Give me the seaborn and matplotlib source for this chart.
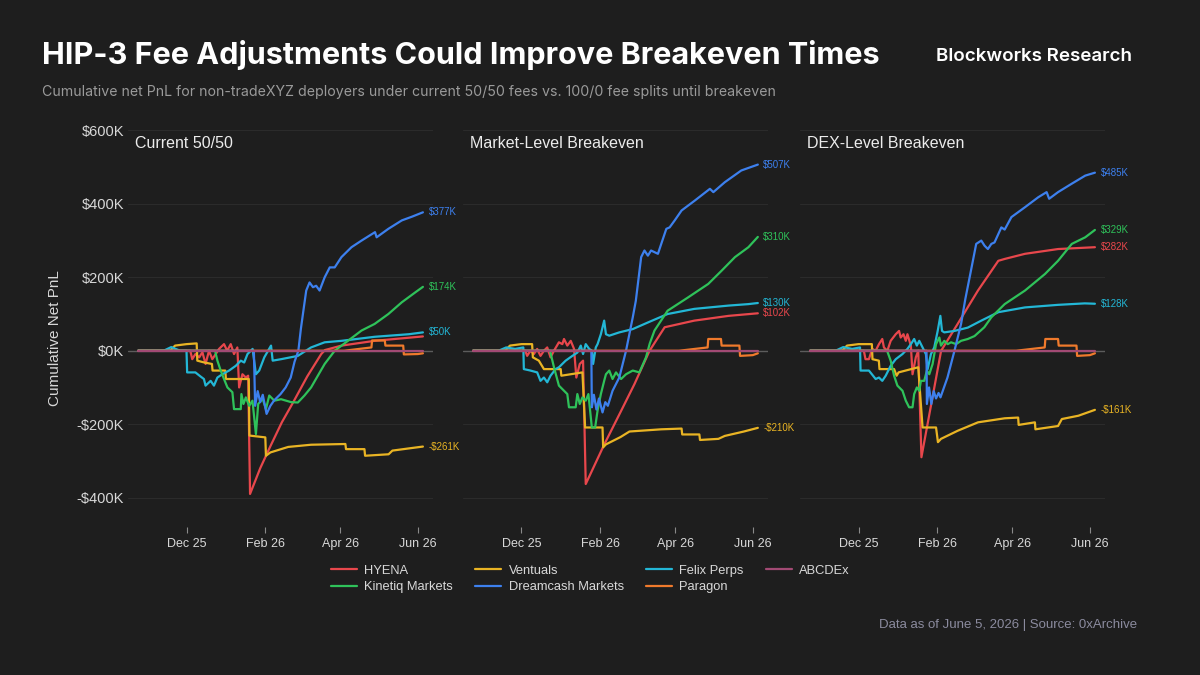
import pandas as pd
import seaborn as sns
import matplotlib.pyplot as plt
import matplotlib.dates as mdates
from matplotlib.ticker import FuncFormatter

# day offsets are counted from Dec 1, 2025; values in $K
START = pd.Timestamp("2025-12-01")

SERIES = ["HYENA", "Ventuals", "Felix Perps", "Kinetiq Markets", "Dreamcash Markets", "Paragon", "ABCDEx"]
COLORS = ["#e8474c", "#e9b424", "#23b7d6", "#2fc25a", "#3d80ee", "#f07a2c", "#a24a74"]
LEGEND_ORDER = ["HYENA", "Kinetiq Markets", "Ventuals", "Dreamcash Markets", "Felix Perps", "Paragon", "ABCDEx"]
PANELS = ["Current 50/50", "Market-Level Breakeven", "DEX-Level Breakeven"]

# ---- Current 50/50
CUR_HYENA = [(-38, 0), (3, 0), (4.5, -23), (7, -9), (10, -18), (12.5, -4), (15, -36), (17.7, 0), (20.3, -23),
             (23, -9), (25.6, 5), (29.5, 18), (32, 0), (34.8, 18), (37.4, -9), (40, 9), (41.4, -100), (44, -64),
             (46.7, -73), (48.5, -68), (50, -390), (58, -320), (66, -260), (75, -195), (84, -140), (95, -70),
             (106, -9), (109, 2), (122, 14), (148, 27), (186, 39)]
CUR_VENTUALS = [(-38, 0), (-13, 0), (-9, 14), (0, 18), (8, 20), (8.5, -27), (14, -32), (20, -36), (20.5, -54),
                (30.5, -54), (31, -77), (49, -77), (49.5, -231), (62, -236), (62.5, -286), (66, -277), (80, -262),
                (98, -256), (125, -254), (125.5, -268), (140, -268), (140.5, -286), (159, -282), (162, -272),
                (175, -266), (186, -261)]
CUR_FELIX = [(-38, 0), (-18, 0), (-12, 10), (-5, 0), (0, 0), (0.5, -59), (7, -59), (11, -70), (13.7, -77), (15, -95),
             (19, -82), (21.6, -95), (24.3, -73), (28.2, -64), (33.5, -54), (38.8, -41), (42.7, -27), (45.4, -32),
             (48, -9), (52, 5), (54.6, -64), (57.2, -54), (61.2, -18), (66.5, 14), (67.8, -27), (74.4, -23),
             (87.6, -14), (98, 9), (108.7, 23), (122, 27), (148, 38), (175, 45), (186, 50)]
CUR_KINETIQ = [(-38, 0), (22.5, 0), (24.3, -27), (26.9, -54), (29.5, -77), (32.2, -100), (36.1, -113), (37.4, -159),
               (42.7, -159), (43.2, -118), (44.8, -145), (46.7, -127), (49.3, -150), (51.9, -136), (54.6, -227),
               (56.4, -145), (59.9, -131), (62.5, -159), (65.1, -122), (69.1, -136), (74.4, -132), (82.3, -140),
               (87.6, -141), (92.8, -122), (98, -100), (103, -70), (108.7, -36), (116.6, 0), (127, 27), (137.7, 55),
               (148, 73), (158.8, 100), (169.4, 132), (180, 159), (186, 174)]
CUR_DREAMCASH = [(-38, 0), (53, 0), (54, -150), (56, -110), (58, -140), (60, -120), (63, -172), (66, -150),
                 (69, -135), (74, -118), (78, -100), (82, -73), (85, -30), (88, 0), (90, 60), (92, 110), (94.2, 164),
                 (96.8, 186), (99.5, 173), (102, 177), (104.7, 164), (108.7, 200), (112.7, 227), (116.6, 227),
                 (121.9, 255), (129.8, 282), (137.7, 300), (148.3, 323), (149.6, 309), (158.8, 332), (169.4, 355),
                 (177.3, 365), (186, 377)]
CUR_PARAGON = [(-38, 0), (124, 0), (145.5, 9), (146, 28), (156, 28), (156.5, 14), (170.5, 14), (171, -10),
               (182, -9), (186, -7)]
CUR_ABCDEX = [(-38, 0), (186, 0)]

# ---- Market-level breakeven
MKT_HYENA = [(-38, 0), (3, 0), (4.5, -14), (7.1, 0), (9.8, -9), (12.4, 5), (15, -14), (17.7, 0), (20.3, 9),
             (22.9, -18), (25.6, 0), (29.5, 23), (32.2, 18), (33.5, 32), (36.1, 14), (38.8, 27), (41.4, 5),
             (43.2, -73), (45.9, -36), (48.5, -27), (50.6, -363), (65.2, -255), (78.4, -164), (88.9, -91),
             (100.8, 0), (112.7, 64), (136, 82), (163, 95), (186, 102)]
MKT_VENTUALS = [(-38, 0), (-13, 0), (-9, 14), (0, 18), (8.4, 18), (9, -18), (13.7, -27), (17.7, -50), (30.9, -50),
                (31.4, -68), (48, -59), (50.1, -209), (63.8, -209), (64.3, -263), (66.5, -255), (78, -235),
                (85, -220), (110, -214), (126, -212), (126.5, -228), (140, -228), (140.5, -243), (155, -240),
                (160, -232), (175, -220), (186, -210)]
MKT_FELIX = [(-38, 0), (-18, 0), (-12, 9), (-5, 5), (1.5, 9), (1.9, -50), (7.1, -54), (12.4, -59), (15, -82),
             (17.7, -73), (20.3, -86), (22.9, -68), (26.9, -50), (29.5, -45), (34.8, -27), (40.1, -14), (44, -5),
             (46.7, 14), (48.5, -9), (50.6, 18), (53.3, 5), (55.5, 0), (56.4, -36), (58.5, 9), (59.9, 18),
             (62.5, 45), (65.1, 82), (66.5, 45), (69.1, 41), (77, 50), (87.6, 59), (99.5, 77), (115, 100),
             (136, 114), (163, 123), (178.6, 127), (186, 130)]
MKT_KINETIQ = [(-38, 0), (22.5, 0), (25.6, -45), (29.5, -95), (33.5, -109), (36.1, -118), (37.4, -154), (42.7, -154),
               (44, -118), (45.9, -145), (48, -127), (50.6, -136), (52.7, -118), (55.4, -209), (58, -209),
               (59.9, -163), (62.5, -118), (65.1, -82), (66.5, -64), (69.1, -54), (71.7, -77), (74.4, -59),
               (78.4, -77), (82.3, -64), (87.6, -54), (92.8, -59), (98, -18), (101, 20), (104.7, 55), (115, 109),
               (131, 145), (147, 182), (157.5, 218), (168, 255), (178.6, 282), (186, 310)]
MKT_DREAMCASH = [(-38, 0), (55, 0), (55.4, -154), (57, -120), (59, -160), (61, -130), (63.8, -168), (66, -140),
                 (68, -150), (71.7, -109), (77, -73), (82.3, 0), (87.6, 91), (90, 136), (94.2, 255), (96.8, 273),
                 (99.5, 259), (102, 273), (107.4, 264), (110, 291), (114, 332), (116.6, 336), (120.6, 355),
                 (126, 382), (136.4, 409), (148.3, 441), (151, 432), (160, 459), (173, 491), (186, 507)]
MKT_PARAGON = [(-38, 0), (124, 0), (146.5, 9), (147, 32), (157, 32), (157.5, 14), (171.5, 14), (172, -14),
               (182, -12), (186, -7)]
MKT_ABCDEX = [(-38, 0), (186, 0)]

# ---- DEX-level breakeven
DEX_HYENA = [(-38, 0), (4.2, 0), (5.5, -23), (8.2, -23), (10.8, 5), (13.5, 0), (16.1, 18), (18.7, 32), (20, 9),
             (22.7, 0), (25.3, 27), (29.3, 45), (31.9, 54), (33.2, 36), (35.4, 45), (37.2, 27), (38.5, 45),
             (41.2, 14), (42.5, -64), (45.1, -18), (47, 0), (49.5, -290), (65, 0), (78, 73), (94, 164), (110, 245),
             (115, 250), (131, 264), (157, 277), (186, 282)]
DEX_VENTUALS = [(-38, 0), (-13, 0), (-9, 14), (0, 18), (10.5, 18), (11, -23), (16, -27), (16.5, -50), (28, -50),
                (30, -68), (31.5, -59), (47, -45), (50.4, -209), (61, -209), (62.5, -249), (64.9, -240), (78, -218),
                (94, -195), (115, -184), (125.6, -182), (126, -202), (138.8, -195), (139.2, -214), (157, -205),
                (160, -186), (173, -177), (186, -161)]
DEX_FELIX = [(-38, 0), (-18, 0), (-12, 10), (-5, 5), (1.2, 9), (1.6, -54), (8.2, -54), (13.5, -77), (16.1, -73),
             (18.7, -82), (21.4, -68), (25.3, -41), (29.3, -23), (34.6, -9), (38.5, 5), (41.2, 18), (43.8, 32),
             (45.9, 14), (47.8, 27), (50.4, 9), (53, -9), (54.4, -50), (57, -9), (59.6, 9), (62.3, 54), (64.4, 95),
             (65.7, 54), (67.5, 50), (75.5, 54), (86, 63), (96.6, 82), (110, 105), (131, 118), (157, 125),
             (178, 129), (186, 128)]
DEX_KINETIQ = [(-38, 0), (22.5, 0), (25.3, -27), (28, -68), (30.6, -95), (34.6, -109), (37.2, -136), (39.8, -154),
               (42.5, -154), (43.8, -118), (45.9, -100), (47.8, -109), (49.1, -82), (51.7, -82), (53.8, -54),
               (55.7, -64), (58.3, -36), (61, 18), (63.6, 36), (64.9, 14), (67.5, 27), (70.2, 18), (72.8, 23),
               (76.8, 18), (80.7, 27), (86, 32), (91.3, 40), (99, 64), (104.5, 91), (115, 127), (131, 164),
               (146.7, 209), (157, 245), (167.8, 291), (178.4, 309), (186, 329)]
DEX_DREAMCASH = [(-38, 0), (53.5, 0), (53.8, -145), (55.5, -100), (57.3, -145), (59.2, -110), (61, -130),
                 (63, -115), (64.5, -127), (70, -73), (75.5, 0), (80.7, 73), (84, 140), (88, 210), (92.6, 291),
                 (96.6, 300), (99.2, 286), (101.8, 277), (104.5, 291), (107, 295), (112.4, 336), (115, 330),
                 (120.3, 364), (131, 391), (141.4, 418), (148, 432), (150, 414), (157, 432), (167.8, 455),
                 (178.4, 477), (186, 485)]
DEX_PARAGON = [(-38, 0), (124, 0), (146.5, 9), (147, 32), (157, 32), (157.5, 14), (171.5, 14), (172, -14),
               (182, -12), (186, -7)]
DEX_ABCDEX = [(-38, 0), (186, 0)]

PANEL_DATA = [
    [CUR_HYENA, CUR_VENTUALS, CUR_FELIX, CUR_KINETIQ, CUR_DREAMCASH, CUR_PARAGON, CUR_ABCDEX],
    [MKT_HYENA, MKT_VENTUALS, MKT_FELIX, MKT_KINETIQ, MKT_DREAMCASH, MKT_PARAGON, MKT_ABCDEX],
    [DEX_HYENA, DEX_VENTUALS, DEX_FELIX, DEX_KINETIQ, DEX_DREAMCASH, DEX_PARAGON, DEX_ABCDEX],
]

rows = []
for panel, series_pts in zip(PANELS, PANEL_DATA):
    for name, pts in zip(SERIES, series_pts):
        for d, v in pts:
            rows.append((panel, name, START + pd.Timedelta(days=d), v))
df = pd.DataFrame(rows, columns=["panel", "series", "date", "pnl"])

BG = "#1e1e1e"
sns.set_theme(style="dark", rc={"axes.facecolor": BG, "figure.facecolor": BG})
plt.rcParams["font.family"] = ["Liberation Sans", "DejaVu Sans"]

palette = dict(zip(SERIES, COLORS))

fig = plt.figure(figsize=(12, 6.75), dpi=100)
lefts = [0.1067, 0.3858, 0.6667]

def money(v, pos=None):
    return ("-$" if v < 0 else "$") + f"{abs(v):.0f}K"

handles = labels = None
for i, panel in enumerate(PANELS):
    ax = fig.add_axes([lefts[i], 0.2193, 0.2542, 0.5956])
    ax.set_facecolor(BG)
    sub = df[df.panel == panel]
    ax.axhline(0, color="#5c5c5c", lw=1.0, zorder=1)
    sns.lineplot(data=sub, x="date", y="pnl", hue="series", hue_order=SERIES, palette=palette,
                 estimator=None, linewidth=1.6, ax=ax, legend=(i == 0), zorder=3)
    if i == 0:
        handles, labels = ax.get_legend_handles_labels()
        ax.get_legend().remove()

    ax.set_xlim(START + pd.Timedelta(days=-46), START + pd.Timedelta(days=194))
    ax.set_ylim(-480, 615)
    ax.set_yticks([-400, -200, 0, 200, 400, 600])
    ax.yaxis.set_major_formatter(FuncFormatter(money))
    ax.grid(axis="y", color="#2b2b2b", lw=0.8)
    ax.grid(axis="x", visible=False)
    for s in ax.spines.values():
        s.set_visible(False)
    ax.set_xticks(pd.to_datetime(["2025-12-01", "2026-02-01", "2026-04-01", "2026-06-01"]))
    ax.xaxis.set_major_formatter(mdates.DateFormatter("%b %y"))
    ax.tick_params(axis="x", colors="#8a8a8a", labelcolor="#d8d8d8", labelsize=9, length=4, width=0.8,
                   direction="out", pad=4, bottom=True)
    ax.tick_params(axis="y", left=False, length=0, labelcolor="#d8d8d8", labelsize=10.5, pad=3)
    if i > 0:
        ax.tick_params(axis="y", labelleft=False)
    ax.set_xlabel("")
    ax.set_ylabel("")
    ax.text(0.023, 0.955, panel, transform=ax.transAxes, color="#ececec", fontsize=11.5, va="center")

    # value labels at the end of each line
    for name in SERIES:
        last = sub[sub.series == name].iloc[-1]
        if abs(last.pnl) >= 50:
            ax.annotate(money(last.pnl), (last.date, last.pnl), xytext=(4, 0), textcoords="offset points",
                        color=palette[name], fontsize=7, va="center", ha="left", annotation_clip=False)

order = [labels.index(n) for n in LEGEND_ORDER]
leg = fig.legend([handles[k] for k in order], LEGEND_ORDER, ncol=4, loc="center", bbox_to_anchor=(0.492, 0.142),
                 frameon=False, fontsize=9.3, handlelength=2.0, handletextpad=0.6, columnspacing=1.7,
                 labelspacing=0.35)
for t in leg.get_texts():
    t.set_color("#d8d8d8")

fig.text(0.035, 0.918, "HIP-3 Fee Adjustments Could Improve Breakeven Times", family=["Inter", "DejaVu Sans"],
         fontsize=22, fontweight="bold", color="white", va="center")
fig.text(0.943, 0.916, "Blockworks Research", family=["Inter", "DejaVu Sans"], fontsize=13.5,
         fontweight="semibold", color="white", va="center", ha="right")
fig.text(0.035, 0.864, "Cumulative net PnL for non-tradeXYZ deployers under current 50/50 fees vs. 100/0 fee "
         "splits until breakeven", family=["Inter", "DejaVu Sans"], fontsize=10.2, color="#9a9a9a", va="center")
fig.text(0.0458, 0.499, "Cumulative Net PnL", rotation=90, fontsize=11, color="#d8d8d8", va="center", ha="center")
fig.text(0.9475, 0.074, "Data as of June 5, 2026 | Source: 0xArchive", fontsize=9.5, color="#8b8b9e",
         ha="right", va="center")

fig.savefig("out.png", dpi=100, facecolor=BG)
